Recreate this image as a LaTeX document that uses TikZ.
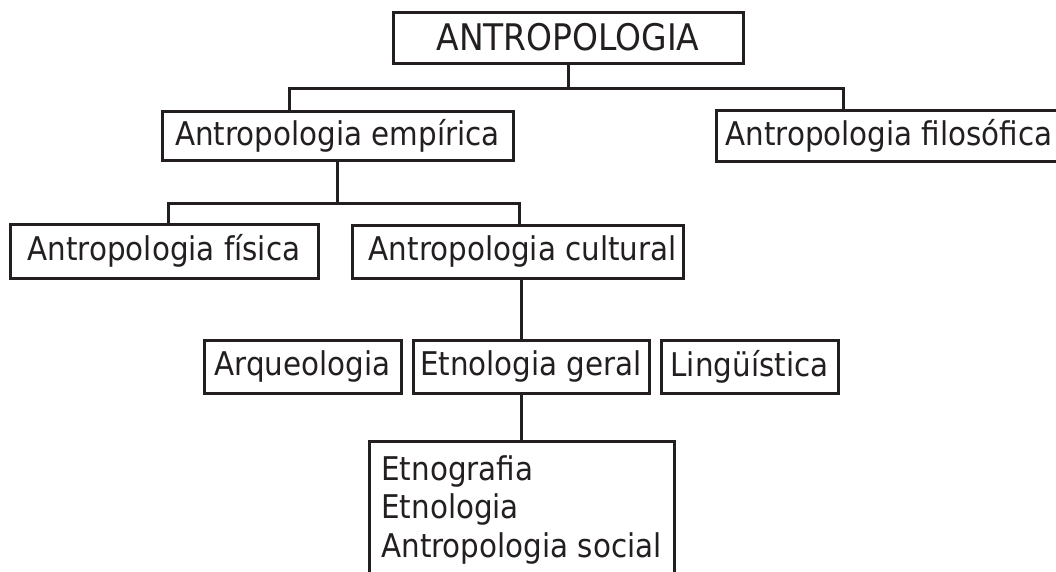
\documentclass[tikz,border=0pt]{standalone}
\usepackage{fontspec}
\setmainfont{DejaVu Sans Condensed}
\definecolor{ink}{RGB}{35,31,32}
\begin{document}
\begin{tikzpicture}[x=0.75pt,y=-0.75pt,
  box/.style={draw=ink, text=ink, line width=2.25pt, inner sep=0pt,
    font=\fontsize{24.5}{29}\selectfont},
  bigbox/.style={box, font=\fontsize{27.5}{32}\selectfont},
  link/.style={draw=ink, line width=2.25pt, line join=miter}]
\clip (0,0) rectangle (1056,571);
\fill[white] (0,0) rectangle (1056,571);
% nodes
\node[bigbox, minimum width=262.5pt, minimum height=38.25pt] (top) at (568,37.5) {ANTROPOLOGIA};
\node[box, minimum width=263.25pt, minimum height=36.75pt] (emp) at (337.5,135.5) {Antropologia empírica};
\node[box, minimum width=259.5pt, minimum height=38.25pt] (fil) at (889,135.5) {Antropologia filosófica};
\node[box, minimum width=231pt, minimum height=40.5pt] (fis) at (164,251) {Antropologia física};
\node[box, minimum width=248.25pt, minimum height=39.75pt] (cul) at (517.5,251.5) {\hspace*{8pt}Antropologia cultural};
\node[box, minimum width=147.75pt, minimum height=39.75pt] (arq) at (302.5,366.5) {Arqueologia};
\node[box, minimum width=177pt, minimum height=39.75pt] (etn) at (531,366.5) {Etnologia geral};
\node[box, minimum width=132.75pt, minimum height=39.75pt] (ling) at (749.5,366.5) {Lingüística};
\node[box, anchor=north, minimum width=228.75pt, align=left, inner ysep=10.5pt, text depth=90pt] (soc) at (521.5,440) {Etnografia\\Etnologia\\Antropologia social};
% connectors
\coordinate (h1l) at (289,88);
\coordinate (h1r) at (843,88);
\coordinate (h2l) at (168,203);
\coordinate (h2r) at (519,203);
\coordinate (v3) at (521,300);
\draw[link] (top.south) -- (top.south |- h1l);
\draw[link] (h1l |- emp.north) -- (h1l) -- (h1r) -- (h1r |- fil.north);
\draw[link] (emp.south) -- (emp.south |- h2l);
\draw[link] (h2l |- fis.north) -- (h2l) -- (h2r) -- (h2r |- cul.north);
\draw[link] (v3 |- cul.south) -- (v3 |- etn.north);
\draw[link] (v3 |- etn.south) -- (v3 |- soc.north);
\end{tikzpicture}
\end{document}
